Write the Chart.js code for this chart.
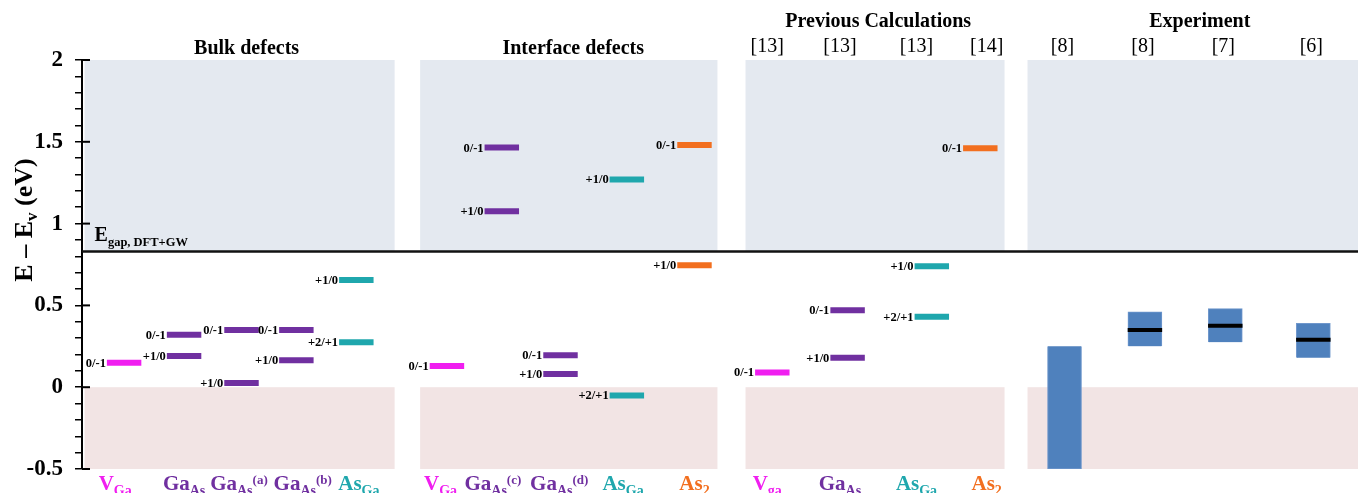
<!DOCTYPE html>
<html lang="en">
<head>
<meta charset="UTF-8">
<title>Defect levels</title>
<script src="https://cdn.jsdelivr.net/npm/chart.js"></script>
<style>
  html, body { margin: 0; padding: 0; background: #fff; }
  .wrap { width: 1358px; height: 493px; position: relative; }
</style>
</head>
<body>
<div class="wrap"><canvas id="levels"></canvas></div>
<script>
// hidden x axis: positions are in % of the plot width
const E_GAP = 0.83;

const panelTitles = ['Bulk defects', 'Interface defects', 'Previous Calculations', 'Experiment'];
const panelFrom = [0.2, 26.5, 52.0, 74.1];
const panelTo = [24.5, 49.8, 72.3, 100];
const titleX = [12.9, 38.5, 62.4, 87.6];

// defect columns: bulk 0-4, interface 5-9, previous calculations 10-13
const colX = [3.3, 8.0, 12.5, 16.8, 21.5, 28.6, 32.9, 37.5, 42.7, 48.0, 54.1, 60.0, 66.6, 70.4];
const colLabelX = [2.6, 8.0, 12.3, 17.3, 21.7, 28.1, 32.2, 37.4, 42.4, 48.0, 53.7, 59.4, 65.4, 70.9];
const colName = ['V', 'Ga', 'Ga', 'Ga', 'As', 'V', 'Ga', 'Ga', 'As', 'As', 'V', 'Ga', 'As', 'As'];
const colSub = ['Ga', 'As', 'As', 'As', 'Ga', 'Ga', 'As', 'As', 'Ga', '2', 'ga', 'As', 'Ga', '2'];
const colSup = ['', '', '(a)', '(b)', '', '', '(c)', '(d)', '', '', '', '', '', ''];
const colKind = ['V', 'GaAs', 'GaAs', 'GaAs', 'AsGa', 'V', 'GaAs', 'GaAs', 'AsGa', 'As2', 'V', 'GaAs', 'AsGa', 'As2'];
const colRef = ['', '', '', '', '', '', '', '', '', '', '[13]', '[13]', '[13]', '[14]'];

// charge transition levels (eV above VBM)
const levelCol = [0, 1, 1, 2, 2, 3, 3, 4, 4, 5, 6, 6, 7, 7, 8, 8, 9, 9, 10, 11, 11, 12, 12, 13];
const levelE = [0.15, 0.32, 0.19, 0.35, 0.025, 0.35, 0.165, 0.655, 0.275,
                0.13, 1.465, 1.075, 0.195, 0.08, 1.27, -0.05, 1.48, 0.745,
                0.09, 0.47, 0.18, 0.74, 0.43, 1.46];
const levelTag = ['0/-1', '0/-1', '+1/0', '0/-1', '+1/0', '0/-1', '+1/0', '+1/0', '+2/+1',
                  '0/-1', '0/-1', '+1/0', '0/-1', '+1/0', '+1/0', '+2/+1', '0/-1', '+1/0',
                  '0/-1', '0/-1', '+1/0', '+1/0', '+2/+1', '0/-1'];

// experiment ranges
const expX = [77.0, 83.3, 89.6, 96.5];
const expRef = ['[8]', '[8]', '[7]', '[6]'];
const expLow = [-0.5, 0.25, 0.275, 0.18];
const expHigh = [0.25, 0.46, 0.48, 0.39];
const expMid = [null, 0.35, 0.375, 0.29];

const kindColor = { V: '#f01ef0', GaAs: '#7030a0', AsGa: '#1fa7ad', As2: '#f26f1f' };
const LEVEL_W = 2.7;
const SERIF = '"Liberation Serif", "Times New Roman", serif';

const datasets = [];
levelE.forEach((e, i) => {
  const c = levelCol[i];
  datasets.push({
    type: 'line',
    data: [{ x: colX[c] - LEVEL_W / 2, y: e }, { x: colX[c] + LEVEL_W / 2, y: e }],
    borderColor: kindColor[colKind[c]],
    borderWidth: 6,
    pointRadius: 0
  });
});
expMid.forEach((m, i) => {
  if (m === null) return;
  datasets.push({
    type: 'line',
    data: [{ x: expX[i] - LEVEL_W / 2, y: m }, { x: expX[i] + LEVEL_W / 2, y: m }],
    borderColor: '#000',
    borderWidth: 4,
    pointRadius: 0
  });
});
datasets.push({
  type: 'bar',
  data: expX.map((x, i) => ({ x: x, y: [expLow[i], expHigh[i]] })),
  backgroundColor: '#4f81bd',
  borderColor: '#6f97cc',
  borderWidth: 1,
  barThickness: 34
});

// draws text pieces one after another (sub/superscripts)
function rich(ctx, parts, x, y, align) {
  let w = 0;
  parts.forEach(p => { ctx.font = p.font; p.w = ctx.measureText(p.t).width; w += p.w; });
  let cx = align === 'center' ? x - w / 2 : (align === 'right' ? x - w : x);
  ctx.textAlign = 'left';
  ctx.textBaseline = 'alphabetic';
  parts.forEach(p => {
    ctx.font = p.font;
    ctx.fillStyle = p.color || '#000';
    ctx.fillText(p.t, cx, y + (p.dy || 0));
    cx += p.w;
  });
}

const backdrop = {
  id: 'backdrop',
  beforeDatasetsDraw(chart) {
    const { ctx, chartArea, scales: { x, y } } = chart;
    const yTop = y.getPixelForValue(2), yGap = y.getPixelForValue(E_GAP);
    const y0 = y.getPixelForValue(0), yBot = y.getPixelForValue(-0.5);
    ctx.save();
    panelFrom.forEach((f, i) => {
      const x0 = x.getPixelForValue(f), x1 = x.getPixelForValue(panelTo[i]);
      ctx.fillStyle = '#e4e9f0';
      ctx.fillRect(x0, yTop, x1 - x0, yGap - yTop);
      ctx.fillStyle = '#f2e4e4';
      ctx.fillRect(x0, y0, x1 - x0, yBot - y0);
    });
    ctx.strokeStyle = '#111';
    ctx.lineWidth = 2.5;
    ctx.beginPath();
    ctx.moveTo(chartArea.left, yGap);
    ctx.lineTo(chartArea.right, yGap);
    ctx.stroke();
    // major ticks poke into the plot
    ctx.lineWidth = 2;
    ctx.strokeStyle = '#000';
    [2, 1.5, 1, 0.5, 0, -0.5].forEach(v => {
      const py = y.getPixelForValue(v);
      ctx.beginPath();
      ctx.moveTo(chartArea.left, py);
      ctx.lineTo(chartArea.left + 8, py);
      ctx.stroke();
    });
    ctx.restore();
  },
  afterDraw(chart) {
    const { ctx, scales: { x, y } } = chart;
    ctx.save();
    const bold = s => 'bold ' + s + 'px ' + SERIF;
    const reg = s => s + 'px ' + SERIF;

    // panel titles
    panelTitles.forEach((t, i) => {
      rich(ctx, [{ t: t, font: bold(20) }], x.getPixelForValue(titleX[i]), i < 2 ? 54 : 27, 'center');
    });
    // references
    colRef.forEach((r, i) => {
      if (r) rich(ctx, [{ t: r, font: reg(20) }], x.getPixelForValue(colLabelX[i]), 52, 'center');
    });
    expRef.forEach((r, i) => {
      rich(ctx, [{ t: r, font: reg(20) }], x.getPixelForValue(expX[i]) - 2, 52, 'center');
    });

    // level tags
    levelE.forEach((e, i) => {
      const c = levelCol[i];
      rich(ctx, [{ t: levelTag[i], font: bold(12.5) }],
        x.getPixelForValue(colX[c] - LEVEL_W / 2) - 1, y.getPixelForValue(e) + 4, 'right');
    });

    // defect names under the axis
    colName.forEach((n, i) => {
      const color = kindColor[colKind[i]];
      const parts = [{ t: n, font: bold(21), color: color }, { t: colSub[i], font: bold(14), color: color, dy: 5 }];
      if (colSup[i]) parts.push({ t: colSup[i], font: bold(13), color: color, dy: -6 });
      rich(ctx, parts, x.getPixelForValue(colLabelX[i]), 490, 'center');
    });

    // gap label
    rich(ctx, [{ t: 'E', font: bold(20) }, { t: 'gap, DFT+GW', font: bold(12.5), dy: 5 }],
      x.getPixelForValue(panelFrom[0]) + 10, y.getPixelForValue(E_GAP) - 10, 'left');

    // y title
    ctx.translate(32, 220);
    ctx.rotate(-Math.PI / 2);
    rich(ctx, [
      { t: 'E \u2013 E', font: bold(26) },
      { t: 'v', font: bold(17), dy: 5 },
      { t: ' (eV)', font: bold(26) }
    ], 0, 0, 'center');
    ctx.restore();
  }
};

new Chart(document.getElementById('levels'), {
  type: 'line',
  data: { datasets: datasets },
  options: {
    responsive: true,
    maintainAspectRatio: false,
    animation: false,
    layout: { padding: { top: 60, bottom: 24, left: 0, right: 0 } },
    plugins: { legend: { display: false }, tooltip: { enabled: false } },
    scales: {
      x: { type: 'linear', min: 0, max: 100, offset: false, display: false },
      y: {
        min: -0.5,
        max: 2,
        afterFit: s => { s.width = 82; s.paddingTop = 0; s.paddingBottom = 0; },
        border: { display: true, color: '#000', width: 2 },
        grid: { drawOnChartArea: false, drawTicks: true, tickLength: 7, color: '#000', lineWidth: 1.5 },
        ticks: {
          stepSize: 0.1,
          autoSkip: false,
          padding: 12,
          color: '#000',
          font: { family: SERIF, size: 23, weight: 'bold' },
          callback: v => Math.abs(v * 2 - Math.round(v * 2)) < 1e-6 ? String(Math.round(v * 10) / 10) : ''
        }
      }
    }
  },
  plugins: [backdrop]
});
</script>
</body>
</html>
